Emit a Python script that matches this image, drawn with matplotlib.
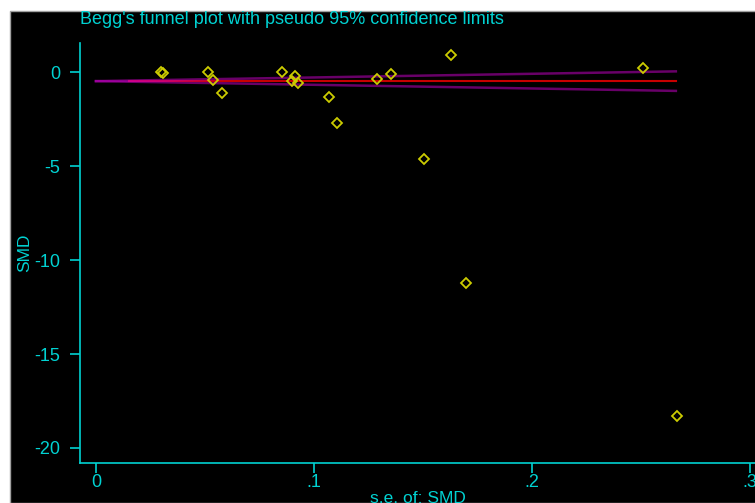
import matplotlib
matplotlib.use("Agg")
import matplotlib.pyplot as plt
from matplotlib.patches import Rectangle

# ── data ─────────────────────────────────────────────────────────────────────
se_smd = [0.0297, 0.0309, 0.0512, 0.0535, 0.0579, 0.0855, 0.0911, 0.0899, 0.0925,
          0.1069, 0.1104, 0.1288, 0.1353, 0.1506, 0.1628, 0.1699, 0.2508, 0.2667]
smd = [0.03, -0.04, 0.02, -0.41, -1.10, 0.02, -0.21, -0.45, -0.59,
       -1.30, -2.72, -0.34, -0.07, -4.60, 0.90, -11.22, 0.23, -18.30]

# pseudo 95% limits and pooled estimate (end points of the straight lines)
limit_se = [0.0, 0.266]
upper_limit = [-0.47, 0.05]
lower_limit = [-0.47, -0.99]
pooled_se = [0.015, 0.266]
pooled_smd = [-0.47, -0.47]

y_ticks = [0, -5, -10, -15, -20]
x_ticks = [0, 0.1, 0.2, 0.3]
x_tick_labels = ["0", ".1", ".2", ".3"]

CYAN = "#00d2d2"
plt.rcParams["font.family"] = ["Liberation Sans", "DejaVu Sans"]

W, H = 755, 503
fig = plt.figure(figsize=(W / 100, H / 100), dpi=100, facecolor="white")
# black plot region with thin grey border, white strip top/left
fig.patches.append(Rectangle((10 / W, 0), 1, 1 - 11 / H, transform=fig.transFigure,
                             facecolor="black", edgecolor="#a0a0a0", linewidth=1,
                             zorder=-10))

ax = fig.add_axes([80 / W, 40 / H, 675 / W, 420 / H])
ax.patch.set_visible(False)

# red pooled line underneath, translucent purple limits on top -> pink where they overlap
ax.plot(pooled_se, pooled_smd, color="#c80000", linewidth=1.5, zorder=2)
ax.plot(limit_se, upper_limit, color="#d000d0", alpha=0.5, linewidth=1.8, zorder=3)
ax.plot(limit_se, lower_limit, color="#d000d0", alpha=0.5, linewidth=1.8, zorder=3)
ax.plot(se_smd, smd, linestyle="none", marker="D", markersize=4.8,
        markerfacecolor="none", markeredgecolor="#cccc00", markeredgewidth=1.3, zorder=4)

ax.set_xlim(-0.0073, 0.3023)
ax.set_ylim(-20.8, 1.56)

for side in ("top", "right"):
    ax.spines[side].set_visible(False)
for side in ("left", "bottom"):
    ax.spines[side].set_color(CYAN)
    ax.spines[side].set_linewidth(1.2)

ax.set_yticks(y_ticks)
ax.set_yticklabels([str(t) for t in y_ticks])
ax.set_xticks(x_ticks)
ax.set_xticklabels(x_tick_labels)
ax.tick_params(axis="y", colors=CYAN, labelsize=13, length=7, width=1.2, pad=7)
ax.tick_params(axis="x", colors=CYAN, labelsize=13, length=7, width=1.2, pad=1)

ax.set_ylabel("SMD", color=CYAN, fontsize=12.5, labelpad=2)
ax.set_xlabel("s.e. of: SMD", color=CYAN, fontsize=12.5, labelpad=0)

fig.text(80 / W, 1 - 19.5 / H, "Begg's funnel plot with pseudo 95% confidence limits",
         color=CYAN, fontsize=13, ha="left", va="center")

fig.savefig("out.png", dpi=100, facecolor=fig.get_facecolor())
